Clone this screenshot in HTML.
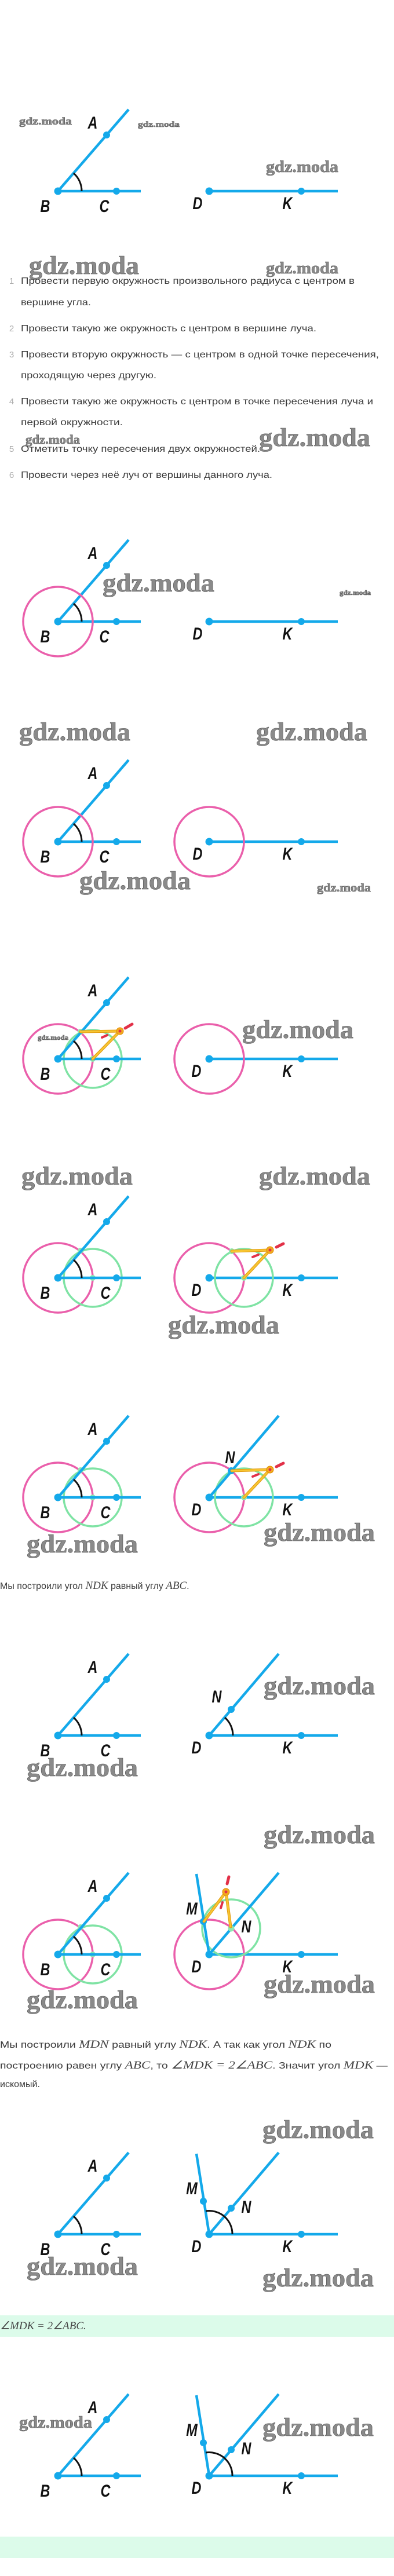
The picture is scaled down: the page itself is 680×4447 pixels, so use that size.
<!DOCTYPE html>
<html><head><meta charset="utf-8"><style>
html,body{margin:0;padding:0;background:#fff}
svg{display:block}
.t{font-family:"Liberation Sans",sans-serif;font-size:16px;fill:#3a3a3a}
.n{font-family:"Liberation Sans",sans-serif;font-size:15px;fill:#aaa}
.m{font-family:"Liberation Serif",serif;font-style:italic;font-size:19px;fill:#444}
.L{font-family:"Liberation Sans",sans-serif;font-weight:bold;font-style:italic;font-size:30px;fill:#111}
.w{font-family:"Liberation Serif",serif;font-weight:bold;fill:#8a8a8a;stroke:#555;stroke-width:0.6}
</style></head><body>
<svg width="680" height="4447" viewBox="0 0 680 4447" xmlns="http://www.w3.org/2000/svg">
<defs>
<g id="ang">
<line x1="100" y1="0" x2="222" y2="-141" stroke="#14a9ea" stroke-width="4.5"/>
<line x1="100" y1="0" x2="243" y2="0" stroke="#14a9ea" stroke-width="4.5"/>
<path d="M141,0 A41,41 0 0 0 127,-31" fill="none" stroke="#111" stroke-width="3"/>
<circle cx="100" cy="0" r="6.5" fill="#14a9ea"/><circle cx="184" cy="-97" r="6" fill="#14a9ea"/><circle cx="201" cy="0" r="6" fill="#14a9ea"/>
</g>
<g id="dk">
<line x1="361" y1="0" x2="583" y2="0" stroke="#14a9ea" stroke-width="4.5"/>
<circle cx="361" cy="0" r="6.5" fill="#14a9ea"/><circle cx="520" cy="0" r="6" fill="#14a9ea"/>
</g>
<g id="lc">
<circle cx="100" cy="0" r="60" fill="none" stroke="#ea5fab" stroke-width="3.5"/>
<circle cx="160" cy="0" r="50" fill="none" stroke="#7fe3a4" stroke-width="3.5"/>
<circle cx="139" cy="-47" r="5" fill="#8ee8b0"/><circle cx="160" cy="0" r="5" fill="#8ee8b0"/>
</g>
<g id="nray">
<line x1="361" y1="0" x2="481" y2="-141" stroke="#14a9ea" stroke-width="4.5"/>
<circle cx="399" cy="-45" r="6" fill="#14a9ea"/>
</g>
<g id="mray">
<line x1="361" y1="0" x2="339" y2="-139" stroke="#14a9ea" stroke-width="4.5"/>
<circle cx="351" cy="-57" r="6" fill="#14a9ea"/>
</g>
<g id="lbl0"></g>
</defs>

<!-- D1 -->
<g transform="translate(0,330)"><use href="#ang"/><use href="#dk"/>
<text class="L" transform="translate(160,-108) scale(0.78,1)" text-anchor="middle">A</text>
<text class="L" transform="translate(78,36) scale(0.78,1)" text-anchor="middle">B</text>
<text class="L" transform="translate(180,36) scale(0.78,1)" text-anchor="middle">C</text>
<text class="L" transform="translate(341,31) scale(0.78,1)" text-anchor="middle">D</text>
<text class="L" transform="translate(496,31) scale(0.78,1)" text-anchor="middle">K</text></g>

<text class="n" x="20" y="490" text-anchor="middle">1</text><text class="t" x="36" y="490" textLength="576" lengthAdjust="spacingAndGlyphs">Провести первую окружность произвольного радиуса с центром в</text>
<text class="t" x="36" y="527" textLength="121" lengthAdjust="spacingAndGlyphs">вершине угла.</text>
<text class="n" x="20" y="572" text-anchor="middle">2</text><text class="t" x="36" y="572" textLength="510" lengthAdjust="spacingAndGlyphs">Провести такую же окружность с центром в вершине луча.</text>
<text class="n" x="20" y="617" text-anchor="middle">3</text><text class="t" x="36" y="617" textLength="618" lengthAdjust="spacingAndGlyphs">Провести вторую окружность — с центром в одной точке пересечения,</text>
<text class="t" x="36" y="653" textLength="234" lengthAdjust="spacingAndGlyphs">проходящую через другую.</text>
<text class="n" x="20" y="698" text-anchor="middle">4</text><text class="t" x="36" y="698" textLength="608" lengthAdjust="spacingAndGlyphs">Провести такую же окружность с центром в точке пересечения луча и</text>
<text class="t" x="36" y="734" textLength="176" lengthAdjust="spacingAndGlyphs">первой окружности.</text>
<text class="n" x="20" y="780" text-anchor="middle">5</text><text class="t" x="36" y="780" textLength="413" lengthAdjust="spacingAndGlyphs">Отметить точку пересечения двух окружностей.</text>
<text class="n" x="20" y="825" text-anchor="middle">6</text><text class="t" x="36" y="825" textLength="434" lengthAdjust="spacingAndGlyphs">Провести через неё луч от вершины данного луча.</text>

<!-- D2 -->
<g transform="translate(0,1073)"><use href="#ang"/><use href="#dk"/>
<circle cx="100" cy="0" r="60" fill="none" stroke="#ea5fab" stroke-width="3.5"/>
<text class="L" transform="translate(160,-108) scale(0.78,1)" text-anchor="middle">A</text>
<text class="L" transform="translate(78,36) scale(0.78,1)" text-anchor="middle">B</text>
<text class="L" transform="translate(180,36) scale(0.78,1)" text-anchor="middle">C</text>
<text class="L" transform="translate(341,31) scale(0.78,1)" text-anchor="middle">D</text>
<text class="L" transform="translate(496,31) scale(0.78,1)" text-anchor="middle">K</text></g>

<!-- D3 -->
<g transform="translate(0,1453)"><use href="#ang"/><use href="#dk"/>
<circle cx="100" cy="0" r="60" fill="none" stroke="#ea5fab" stroke-width="3.5"/>
<circle cx="361" cy="0" r="60" fill="none" stroke="#ea5fab" stroke-width="3.5"/>
<text class="L" transform="translate(160,-108) scale(0.78,1)" text-anchor="middle">A</text>
<text class="L" transform="translate(78,36) scale(0.78,1)" text-anchor="middle">B</text>
<text class="L" transform="translate(180,36) scale(0.78,1)" text-anchor="middle">C</text>
<text class="L" transform="translate(341,31) scale(0.78,1)" text-anchor="middle">D</text>
<text class="L" transform="translate(496,31) scale(0.78,1)" text-anchor="middle">K</text></g>

<!-- D4 -->
<g transform="translate(0,1828)"><use href="#lc"/><use href="#ang"/><use href="#dk"/>
<circle cx="361" cy="0" r="60" fill="none" stroke="#ea5fab" stroke-width="3.5"/>
<g stroke-linecap="round"><line x1="207" y1="-48" x2="139" y2="-47" stroke="#e09a10" stroke-width="5"/><line x1="207" y1="-48" x2="139" y2="-47" stroke="#f7c531" stroke-width="3"/>
<line x1="207" y1="-48" x2="160" y2="0" stroke="#e09a10" stroke-width="5"/><line x1="207" y1="-48" x2="160" y2="0" stroke="#f7c531" stroke-width="3"/>
<line x1="216" y1="-53" x2="228" y2="-60" stroke="#e23048" stroke-width="5"/><line x1="176" y1="-37" x2="185" y2="-41" stroke="#e23048" stroke-width="4"/></g>
<circle cx="207" cy="-48" r="6" fill="#f2a91f" stroke="#e08a00"/><circle cx="207" cy="-48" r="2.5" fill="#e23048"/>
<text class="L" transform="translate(160,-108) scale(0.78,1)" text-anchor="middle">A</text>
<text class="L" transform="translate(78,36) scale(0.78,1)" text-anchor="middle">B</text>
<text class="L" transform="translate(182,36) scale(0.78,1)" text-anchor="middle">C</text>
<text class="L" transform="translate(339,31) scale(0.78,1)" text-anchor="middle">D</text>
<text class="L" transform="translate(496,31) scale(0.78,1)" text-anchor="middle">K</text></g>

<!-- D5 -->
<g transform="translate(0,2206)"><use href="#lc"/><use href="#ang"/><use href="#dk"/>
<circle cx="361" cy="0" r="60" fill="none" stroke="#ea5fab" stroke-width="3.5"/>
<circle cx="421" cy="0" r="50" fill="none" stroke="#7fe3a4" stroke-width="3.5"/>
<circle cx="400" cy="-46" r="5" fill="#8ee8b0"/><circle cx="421" cy="0" r="5" fill="#8ee8b0"/>
<g stroke-linecap="round"><line x1="466" y1="-48" x2="400" y2="-46" stroke="#e09a10" stroke-width="5"/><line x1="466" y1="-48" x2="400" y2="-46" stroke="#f7c531" stroke-width="3"/>
<line x1="466" y1="-48" x2="421" y2="0" stroke="#e09a10" stroke-width="5"/><line x1="466" y1="-48" x2="421" y2="0" stroke="#f7c531" stroke-width="3"/>
<line x1="477" y1="-53" x2="489" y2="-59" stroke="#e23048" stroke-width="5"/><line x1="436" y1="-36" x2="446" y2="-40" stroke="#e23048" stroke-width="4"/></g>
<circle cx="466" cy="-48" r="6" fill="#f2a91f" stroke="#e08a00"/><circle cx="466" cy="-48" r="2.5" fill="#e23048"/>
<text class="L" transform="translate(160,-108) scale(0.78,1)" text-anchor="middle">A</text>
<text class="L" transform="translate(78,36) scale(0.78,1)" text-anchor="middle">B</text>
<text class="L" transform="translate(182,36) scale(0.78,1)" text-anchor="middle">C</text>
<text class="L" transform="translate(339,31) scale(0.78,1)" text-anchor="middle">D</text>
<text class="L" transform="translate(496,31) scale(0.78,1)" text-anchor="middle">K</text></g>

<!-- D6 -->
<g transform="translate(0,2585)"><use href="#lc"/><use href="#ang"/><use href="#dk"/>
<circle cx="361" cy="0" r="60" fill="none" stroke="#ea5fab" stroke-width="3.5"/>
<circle cx="421" cy="0" r="50" fill="none" stroke="#7fe3a4" stroke-width="3.5"/>
<circle cx="421" cy="0" r="5" fill="#8ee8b0"/>
<line x1="361" y1="0" x2="481" y2="-141" stroke="#14a9ea" stroke-width="4.5"/>
<circle cx="399" cy="-46" r="6" fill="#14a9ea"/>
<g stroke-linecap="round"><line x1="466" y1="-48" x2="400" y2="-46" stroke="#e09a10" stroke-width="5"/><line x1="466" y1="-48" x2="400" y2="-46" stroke="#f7c531" stroke-width="3"/>
<line x1="466" y1="-48" x2="421" y2="0" stroke="#e09a10" stroke-width="5"/><line x1="466" y1="-48" x2="421" y2="0" stroke="#f7c531" stroke-width="3"/>
<line x1="477" y1="-53" x2="489" y2="-59" stroke="#e23048" stroke-width="5"/><line x1="436" y1="-36" x2="446" y2="-40" stroke="#e23048" stroke-width="4"/></g>
<circle cx="466" cy="-48" r="6" fill="#f2a91f" stroke="#e08a00"/><circle cx="466" cy="-48" r="2.5" fill="#e23048"/>
<text class="L" transform="translate(160,-108) scale(0.78,1)" text-anchor="middle">A</text>
<text class="L" transform="translate(397,-59) scale(0.78,1)" text-anchor="middle">N</text>
<text class="L" transform="translate(78,36) scale(0.78,1)" text-anchor="middle">B</text>
<text class="L" transform="translate(182,36) scale(0.78,1)" text-anchor="middle">C</text>
<text class="L" transform="translate(339,31) scale(0.78,1)" text-anchor="middle">D</text>
<text class="L" transform="translate(496,31) scale(0.78,1)" text-anchor="middle">K</text></g>

<text class="t" x="0" y="2743">Мы построили угол <tspan class="m">NDK</tspan> равный углу <tspan class="m">ABC</tspan>.</text>

<!-- D7 -->
<g transform="translate(0,2996)"><use href="#ang"/><use href="#dk"/><use href="#nray"/>
<path d="M402,0 A41,41 0 0 0 388,-31" fill="none" stroke="#111" stroke-width="3"/>
<text class="L" transform="translate(160,-108) scale(0.78,1)" text-anchor="middle">A</text>
<text class="L" transform="translate(374,-57) scale(0.78,1)" text-anchor="middle">N</text>
<text class="L" transform="translate(78,36) scale(0.78,1)" text-anchor="middle">B</text>
<text class="L" transform="translate(182,36) scale(0.78,1)" text-anchor="middle">C</text>
<text class="L" transform="translate(339,31) scale(0.78,1)" text-anchor="middle">D</text>
<text class="L" transform="translate(496,31) scale(0.78,1)" text-anchor="middle">K</text></g>

<!-- D8 -->
<g transform="translate(0,3374)"><use href="#lc"/><use href="#ang"/><use href="#dk"/>
<circle cx="361" cy="0" r="60" fill="none" stroke="#ea5fab" stroke-width="3.5"/>
<circle cx="399" cy="-45" r="50" fill="none" stroke="#7fe3a4" stroke-width="3.5"/>
<use href="#mray"/>
<line x1="361" y1="0" x2="481" y2="-141" stroke="#14a9ea" stroke-width="4.5"/>
<circle cx="399" cy="-45" r="5.5" fill="#8ee8b0"/>
<g stroke-linecap="round"><line x1="390" y1="-108" x2="352" y2="-57" stroke="#e09a10" stroke-width="5"/><line x1="390" y1="-108" x2="352" y2="-57" stroke="#f7c531" stroke-width="3"/>
<line x1="390" y1="-108" x2="398" y2="-48" stroke="#e09a10" stroke-width="5"/><line x1="390" y1="-108" x2="398" y2="-48" stroke="#f7c531" stroke-width="3"/>
<line x1="392" y1="-122" x2="395" y2="-134" stroke="#e23048" stroke-width="5"/><line x1="381" y1="-80" x2="384" y2="-90" stroke="#e23048" stroke-width="4"/></g>
<circle cx="390" cy="-108" r="6" fill="#f2a91f" stroke="#e08a00"/><circle cx="390" cy="-108" r="2.5" fill="#e23048"/>
<text class="L" transform="translate(160,-108) scale(0.78,1)" text-anchor="middle">A</text>
<text class="L" transform="translate(331,-69) scale(0.78,1)" text-anchor="middle">M</text>
<text class="L" transform="translate(425,-38) scale(0.78,1)" text-anchor="middle">N</text>
<text class="L" transform="translate(78,36) scale(0.78,1)" text-anchor="middle">B</text>
<text class="L" transform="translate(182,36) scale(0.78,1)" text-anchor="middle">C</text>
<text class="L" transform="translate(339,31) scale(0.78,1)" text-anchor="middle">D</text>
<text class="L" transform="translate(496,31) scale(0.78,1)" text-anchor="middle">K</text></g>

<text class="t" x="0" y="3535" textLength="572" lengthAdjust="spacingAndGlyphs">Мы построили <tspan class="m">MDN</tspan> равный углу <tspan class="m">NDK</tspan>. А так как угол <tspan class="m">NDK</tspan> по</text>
<text class="t" x="0" y="3571" textLength="669" lengthAdjust="spacingAndGlyphs">построению равен углу <tspan class="m">ABC</tspan>, то <tspan class="m">∠MDK = 2∠ABC</tspan>. Значит угол <tspan class="m">MDK</tspan> —</text>
<text class="t" x="0" y="3603">искомый.</text>

<!-- D9 -->
<g transform="translate(0,3857)"><use href="#ang"/><use href="#dk"/><use href="#nray"/><use href="#mray"/>
<path d="M401,0 A40,40 0 0 0 355,-40" fill="none" stroke="#111" stroke-width="3"/>
<text class="L" transform="translate(160,-108) scale(0.78,1)" text-anchor="middle">A</text>
<text class="L" transform="translate(331,-69) scale(0.78,1)" text-anchor="middle">M</text>
<text class="L" transform="translate(425,-37) scale(0.78,1)" text-anchor="middle">N</text>
<text class="L" transform="translate(78,36) scale(0.78,1)" text-anchor="middle">B</text>
<text class="L" transform="translate(182,36) scale(0.78,1)" text-anchor="middle">C</text>
<text class="L" transform="translate(339,31) scale(0.78,1)" text-anchor="middle">D</text>
<text class="L" transform="translate(496,31) scale(0.78,1)" text-anchor="middle">K</text></g>

<rect x="0" y="3997" width="680" height="37" fill="#dcfbea"/>
<text class="m" x="0" y="4021">∠MDK = 2∠ABC.</text>

<!-- D10 -->
<g transform="translate(0,4274)"><use href="#ang"/><use href="#dk"/><use href="#nray"/><use href="#mray"/>
<path d="M401,0 A40,40 0 0 0 355,-40" fill="none" stroke="#111" stroke-width="3"/>
<text class="L" transform="translate(160,-108) scale(0.78,1)" text-anchor="middle">A</text>
<text class="L" transform="translate(331,-69) scale(0.78,1)" text-anchor="middle">M</text>
<text class="L" transform="translate(425,-37) scale(0.78,1)" text-anchor="middle">N</text>
<text class="L" transform="translate(78,36) scale(0.78,1)" text-anchor="middle">B</text>
<text class="L" transform="translate(182,36) scale(0.78,1)" text-anchor="middle">C</text>
<text class="L" transform="translate(339,31) scale(0.78,1)" text-anchor="middle">D</text>
<text class="L" transform="translate(496,31) scale(0.78,1)" text-anchor="middle">K</text></g>

<rect x="0" y="4379" width="680" height="37" fill="#dcfbea"/>

<!-- watermarks -->
<g class="w">
<text x="33" y="215" font-size="18" textLength="91" lengthAdjust="spacingAndGlyphs">gdz.moda</text>
<text x="238" y="219" font-size="14" textLength="72" lengthAdjust="spacingAndGlyphs">gdz.moda</text>
<text x="459" y="297" font-size="28" textLength="125" lengthAdjust="spacingAndGlyphs">gdz.moda</text>
<text x="50" y="473" font-size="44" textLength="190" lengthAdjust="spacingAndGlyphs">gdz.moda</text>
<text x="459" y="472" font-size="28" textLength="125" lengthAdjust="spacingAndGlyphs">gdz.moda</text>
<text x="44" y="766" font-size="22" textLength="94" lengthAdjust="spacingAndGlyphs">gdz.moda</text>
<text x="447" y="770" font-size="44" textLength="192" lengthAdjust="spacingAndGlyphs">gdz.moda</text>
<text x="177" y="1021" font-size="44" textLength="193" lengthAdjust="spacingAndGlyphs">gdz.moda</text>
<text x="586" y="1027" font-size="12" textLength="54" lengthAdjust="spacingAndGlyphs">gdz.moda</text>
<text x="33" y="1278" font-size="44" textLength="192" lengthAdjust="spacingAndGlyphs">gdz.moda</text>
<text x="442" y="1278" font-size="44" textLength="192" lengthAdjust="spacingAndGlyphs">gdz.moda</text>
<text x="137" y="1535" font-size="44" textLength="192" lengthAdjust="spacingAndGlyphs">gdz.moda</text>
<text x="547" y="1539" font-size="20" textLength="93" lengthAdjust="spacingAndGlyphs">gdz.moda</text>
<text x="418" y="1792" font-size="44" textLength="192" lengthAdjust="spacingAndGlyphs">gdz.moda</text>
<text x="65" y="1795" font-size="12" textLength="53" lengthAdjust="spacingAndGlyphs">gdz.moda</text>
<text x="37" y="2045" font-size="44" textLength="192" lengthAdjust="spacingAndGlyphs">gdz.moda</text>
<text x="447" y="2045" font-size="44" textLength="192" lengthAdjust="spacingAndGlyphs">gdz.moda</text>
<text x="290" y="2302" font-size="44" textLength="192" lengthAdjust="spacingAndGlyphs">gdz.moda</text>
<text x="46" y="2680" font-size="44" textLength="192" lengthAdjust="spacingAndGlyphs">gdz.moda</text>
<text x="455" y="2660" font-size="44" textLength="192" lengthAdjust="spacingAndGlyphs">gdz.moda</text>
<text x="455" y="2925" font-size="44" textLength="192" lengthAdjust="spacingAndGlyphs">gdz.moda</text>
<text x="46" y="3066" font-size="44" textLength="192" lengthAdjust="spacingAndGlyphs">gdz.moda</text>
<text x="455" y="3182" font-size="44" textLength="192" lengthAdjust="spacingAndGlyphs">gdz.moda</text>
<text x="455" y="3440" font-size="44" textLength="192" lengthAdjust="spacingAndGlyphs">gdz.moda</text>
<text x="46" y="3467" font-size="44" textLength="192" lengthAdjust="spacingAndGlyphs">gdz.moda</text>
<text x="453" y="3691" font-size="44" textLength="192" lengthAdjust="spacingAndGlyphs">gdz.moda</text>
<text x="46" y="3927" font-size="44" textLength="192" lengthAdjust="spacingAndGlyphs">gdz.moda</text>
<text x="453" y="3947" font-size="44" textLength="192" lengthAdjust="spacingAndGlyphs">gdz.moda</text>
<text x="33" y="4191" font-size="28" textLength="126" lengthAdjust="spacingAndGlyphs">gdz.moda</text>
<text x="453" y="4205" font-size="44" textLength="192" lengthAdjust="spacingAndGlyphs">gdz.moda</text>
</g>
</svg>
</body></html>
